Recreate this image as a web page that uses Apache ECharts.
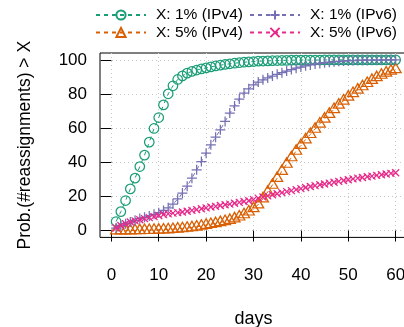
<!DOCTYPE html>
<html>
<head>
<meta charset="utf-8">
<script src="https://cdn.jsdelivr.net/npm/echarts@6/dist/echarts.min.js"></script>
<style>
  html, body { margin: 0; padding: 0; background: #fff; }
  #chart { width: 404px; height: 327px; }
</style>
</head>
<body>
<div id="chart"></div>
<script>
const days = [
  1, 2, 3, 4, 5, 6, 7, 8, 9, 10,
  11, 12, 13, 14, 15, 16, 17, 18, 19, 20,
  21, 22, 23, 24, 25, 26, 27, 28, 29, 30,
  31, 32, 33, 34, 35, 36, 37, 38, 39, 40,
  41, 42, 43, 44, 45, 46, 47, 48, 49, 50,
  51, 52, 53, 54, 55, 56, 57, 58, 59, 60,
];

// X: 1% (IPv4)
const ipv4Pct1 = [
  5.3, 11.1, 17.6, 24.4, 30.7, 37.5, 44.2, 51.8, 59.8, 66.2,
  73.6, 80.1, 84.8, 88.5, 90.6, 92.2, 93.2, 94.0, 94.7, 95.3,
  95.9, 96.4, 96.9, 97.3, 97.7, 98.0, 98.3, 98.6, 98.8, 99.0,
  99.2, 99.3, 99.4, 99.5, 99.6, 99.7, 99.7, 99.8, 99.8, 99.85,
  99.9, 99.9, 99.9, 99.9, 99.95, 99.95, 99.95, 100, 100, 100,
  100, 100, 100, 100, 100, 100, 100, 100, 100, 100,
];

// X: 5% (IPv4)
const ipv4Pct5 = [
  0, 0, 0, 0, 0.1, 0.1, 0.2, 0.2, 0.3, 0.4,
  0.5, 0.6, 0.8, 1.0, 1.2, 1.5, 1.8, 2.2, 2.7, 3.2,
  3.7, 4.2, 4.8, 5.4, 6.1, 7.0, 8.1, 9.4, 11.0, 13.0,
  15.2, 18.7, 22.6, 26.7, 30.7, 34.8, 39.0, 42.8, 46.6, 50.0,
  53.3, 56.4, 59.5, 62.5, 65.4, 68.2, 71.0, 73.6, 76.0, 78.3,
  80.4, 82.4, 84.4, 86.3, 88.1, 89.7, 91.1, 92.4, 93.5, 94.4,
];

// X: 1% (IPv6)
const ipv6Pct1 = [
  1.5, 3.0, 4.0, 5.0, 6.0, 7.0, 7.8, 8.6, 9.5, 10.5,
  11.8, 13.3, 15.5, 18.5, 22.0, 26.0, 30.7, 35.6, 40.4, 45.3,
  50.2, 54.7, 59.0, 63.9, 68.8, 73.0, 77.0, 80.5, 83.0, 85.3,
  87.0, 88.3, 89.4, 90.5, 91.5, 92.5, 93.4, 94.3, 95.1, 95.8,
  96.5, 97.0, 97.5, 97.9, 98.3, 98.6, 98.9, 99.1, 99.3, 99.5,
  99.6, 99.7, 99.8, 99.8, 99.9, 99.9, 99.9, 100, 100, 100,
];

// X: 5% (IPv6)
const ipv6Pct5 = [
  1.5, 3.0, 4.0, 5.0, 5.7, 6.3, 7.0, 7.6, 8.2, 8.8,
  9.4, 9.8, 10.2, 10.5, 10.9, 11.3, 11.8, 12.3, 12.8, 13.3,
  13.8, 14.2, 14.7, 15.1, 15.5, 16.0, 16.5, 17.0, 17.5, 18.1,
  19.0, 19.7, 20.3, 21.0, 21.6, 22.2, 22.8, 23.4, 24.0, 24.6,
  25.2, 25.8, 26.3, 26.8, 27.3, 27.8, 28.3, 28.8, 29.3, 29.8,
  30.3, 30.7, 31.1, 31.5, 31.9, 32.3, 32.7, 33.1, 33.5, 33.9,
];

const xTicks = [0, 10, 20, 30, 40, 50, 60];
const yTicks = [0, 20, 40, 60, 80, 100];

const FONT = "'Liberation Sans', Arial, Helvetica, sans-serif";
const PLUS = "path://M0,5L10,5M5,0L5,10";
const CROSS = "path://M0,0L10,10M0,10L10,0";

function lineSeries(name, values, color, symbol, size, offset) {
  return {
    name,
    type: "line",
    data: days.map((d, i) => [d, values[i]]),
    symbol,
    symbolSize: size,
    symbolOffset: offset || [0, 0],
    lineStyle: { color, width: 1, type: [4, 4] },
    itemStyle: { color: "rgba(0,0,0,0)", borderColor: color, borderWidth: 1.25 },
    emphasis: { disabled: true },
  };
}

const chart = echarts.init(document.getElementById("chart"));

const legendBase = {
  orient: "horizontal",
  left: 95,
  padding: 0,
  itemWidth: 50,
  itemHeight: 11.5,
  itemGap: 6,
  selectedMode: false,
  textStyle: { fontFamily: FONT, fontSize: 15.5, color: "#000", padding: [0, 0, 0, 5] },
};

chart.setOption({
  animation: false,
  textStyle: { fontFamily: FONT },
  legend: [
    { ...legendBase, top: 7, data: ["X: 1% (IPv4)", "X: 1% (IPv6)"] },
    { ...legendBase, top: 24.5, data: ["X: 5% (IPv4)", "X: 5% (IPv6)"] },
  ],
  grid: {
    left: 100,
    top: 53,
    width: 307,
    height: 184.4,
    outerBoundsMode: "none",
    containLabel: false,
    show: true,
    borderColor: "#000",
    borderWidth: 1,
  },
  xAxis: {
    type: "value",
    min: -2.4,
    max: 62.4,
    splitNumber: 5,
    name: "days",
    nameLocation: "middle",
    nameGap: 73,
    nameTextStyle: { fontFamily: FONT, fontSize: 18, color: "#000" },
    axisLine: { show: false },
    axisTick: { show: true, length: 11, customValues: xTicks, lineStyle: { color: "#000" } },
    axisLabel: { customValues: xTicks, margin: 29, fontFamily: FONT, fontSize: 17, color: "#000" },
    splitLine: { show: true, lineStyle: { color: "#c8c8c8", type: [1, 3] } },
  },
  yAxis: {
    type: "value",
    min: -4,
    max: 104,
    splitNumber: 5,
    name: "Prob.(#reassignments) > X",
    nameLocation: "middle",
    nameRotate: 90,
    nameGap: 66,
    nameTextStyle: { fontFamily: FONT, fontSize: 17.5, color: "#000" },
    axisLine: { show: false },
    axisTick: { show: true, length: 11, customValues: yTicks, lineStyle: { color: "#000" } },
    axisLabel: { customValues: yTicks, margin: 13, padding: [3, 0, 0, 0], fontFamily: FONT, fontSize: 17, color: "#000" },
    splitLine: { show: true, lineStyle: { color: "#c8c8c8", type: [1, 3] } },
  },
  series: [
    lineSeries("X: 1% (IPv4)", ipv4Pct1, "#1B9E77", "circle", 9.5),
    lineSeries("X: 5% (IPv4)", ipv4Pct5, "#D95F02", "triangle", [11, 9.5], [0, -1.5]),
    lineSeries("X: 1% (IPv6)", ipv6Pct1, "#7570B3", PLUS, 10),
    lineSeries("X: 5% (IPv6)", ipv6Pct5, "#E7298A", CROSS, 7),
  ],
});
</script>
</body>
</html>
